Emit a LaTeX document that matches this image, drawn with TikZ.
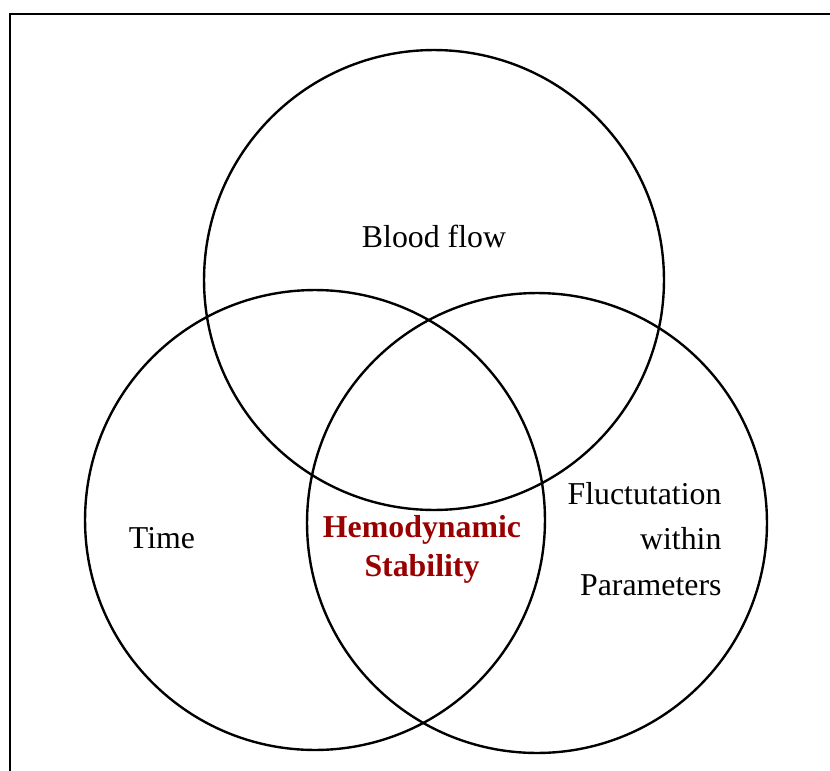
\documentclass[tikz,border=0pt]{standalone}
\usepackage{fontspec}
\setmainfont{Liberation Serif}
\usepackage{xcolor}
\definecolor{StabRed}{HTML}{990000}

\begin{document}
\begin{tikzpicture}[x=0.377pt, y=-0.377pt,
        ring/.style={circle, draw, line width=0.9pt, inner sep=0pt, minimum size=173.4pt},
        lbl/.style={inner sep=0pt, anchor=base, font=\fontsize{12}{14.5}\selectfont}]
        \useasboundingbox (0,0) rectangle (830,771);
        \clip (0,0) rectangle (830,771);
        \draw[line width=0.75pt] (10,14) rectangle (850,800);
        \node[ring] (flow) at (434,280) {};
        \node[ring] (time) at (315,520) {};
        \node[ring] (param) at (537,523) {};
        \node[lbl] (flowtxt) at (434,247) {Blood flow};
        \node[lbl] (timetxt) at (162,548) {Time};
        \node[lbl, anchor=base east, align=right, font=\fontsize{12}{17}\selectfont]
            (paramtxt) at (722,595) {Fluctutation\\within\\Parameters};
        \node[lbl, align=center, text=StabRed, font=\fontsize{12}{14.6}\selectfont\bfseries]
            (stab) at (422,576) {Hemodynamic\\Stability};
    \end{tikzpicture}
\end{document}
